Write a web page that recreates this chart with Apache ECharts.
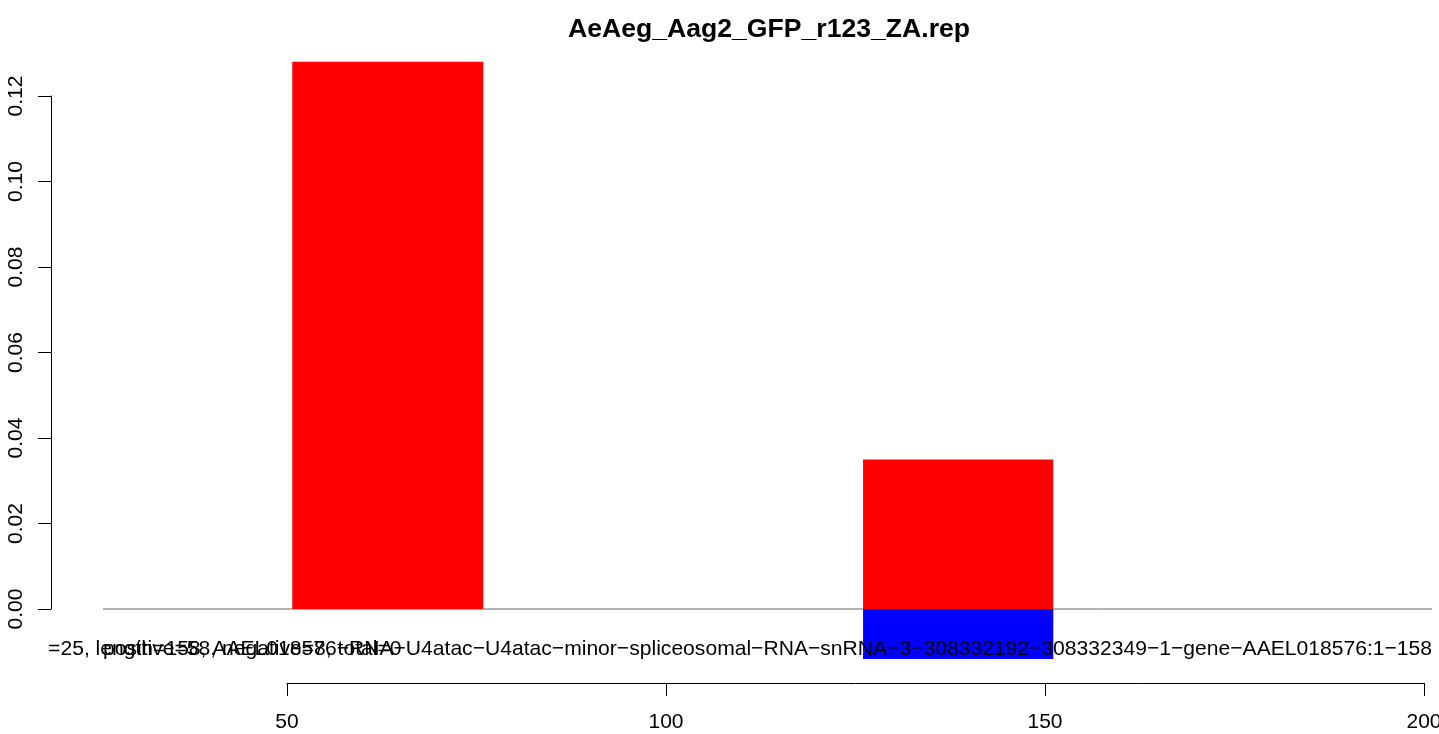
<!DOCTYPE html>
<html>
<head>
<meta charset="utf-8">
<script src="https://cdn.jsdelivr.net/npm/echarts@6/dist/echarts.min.js"></script>
<style>html,body{margin:0;padding:0;background:#fff}#c{width:1439px;height:734px}</style>
</head>
<body>
<div id="c"></div>
<script>
const titleText = "AeAeg_Aag2_GFP_r123_ZA.rep";
const binStart = [50.7, 126.0];
const binEnd = [75.9, 151.1];
const positiveValues = [0.128, 0.035];
const negativeValues = [0, -0.0117];
const baselineX = [25.73, 201.06];
const yTicks = [0, 0.02, 0.04, 0.06, 0.08, 0.10, 0.12];
const xTicks = [50, 100, 150, 200];
const noteRight = "=25, length=158, AAEL018576\u2212RNA\u2212U4atac\u2212U4atac\u2212minor\u2212spliceosomal\u2212RNA\u2212snRNA\u22123\u2212308332192\u2212308332349\u22121\u2212gene\u2212AAEL018576:1\u2212158";
const noteLeft = "positive=58, negative=8, total=0";

const FONT = "'Liberation Sans', Arial, Helvetica, sans-serif";
const chart = echarts.init(document.getElementById('c'), null, {renderer: 'canvas'});

const barData = [];
for (let i = 0; i < binStart.length; i++) {
  barData.push([binStart[i], binEnd[i], positiveValues[i], 'pos']);
  if (negativeValues[i] !== 0) barData.push([binStart[i], binEnd[i], negativeValues[i], 'neg']);
}

chart.setOption({
  animation: false,
  backgroundColor: '#ffffff',
  title: {
    text: titleText,
    left: 764,
    top: 11,
    textAlign: 'center',
    textStyle: {fontFamily: FONT, fontSize: 26.6, fontWeight: 'bold', color: '#000'}
  },
  grid: [
    {left: 103, right: 7, top: 38, bottom: 51, outerBoundsMode: 'none', containLabel: false},
    {left: 51, right: 1380, top: 96, bottom: 125, outerBoundsMode: 'none', containLabel: false},
    {left: 287, right: 15, top: 600, bottom: 51, outerBoundsMode: 'none', containLabel: false}
  ],
  xAxis: [
    {gridIndex: 0, type: 'value', min: baselineX[0], max: baselineX[1], show: false},
    {gridIndex: 1, type: 'value', min: 0, max: 1, show: false},
    {gridIndex: 2, type: 'value', min: xTicks[0], max: xTicks[xTicks.length-1], interval: 50,
     position: 'bottom',
     axisLine: {show: true, lineStyle: {color: '#000', width: 1}},
     axisTick: {show: true, inside: false, length: 13, lineStyle: {color: '#000'}},
     axisLabel: {show: true, margin: 29, fontFamily: FONT, fontSize: 21, color: '#000',
                 showMinLabel: true, showMaxLabel: true},
     splitLine: {show: false}}
  ],
  yAxis: [
    {gridIndex: 0, type: 'value', min: -0.01731, max: 0.13357, show: false},
    {gridIndex: 1, type: 'value', min: yTicks[0], max: yTicks[yTicks.length-1], interval: 0.02,
     position: 'left',
     axisLine: {show: true, lineStyle: {color: '#000', width: 1}},
     axisTick: {show: true, inside: false, length: 13, lineStyle: {color: '#000'}},
     axisLabel: {show: true, rotate: 90, margin: 24, fontFamily: FONT, fontSize: 21, color: '#000',
                 formatter: v => v.toFixed(2), showMinLabel: true, showMaxLabel: true},
     splitLine: {show: false}},
    {gridIndex: 2, type: 'value', min: 0, max: 1, show: false}
  ],
  series: [
    {
      type: 'line', xAxisIndex: 0, yAxisIndex: 0, z: 1,
      data: [[baselineX[0], 0], [baselineX[1], 0]],
      symbol: 'none', lineStyle: {color: '#666666', width: 1}, silent: true
    },
    {
      type: 'custom', xAxisIndex: 0, yAxisIndex: 0, z: 3,
      data: barData,
      encode: {x: [0, 1], y: 2},
      renderItem: function (params, api) {
        const p0 = api.coord([api.value(0), 0]);
        const p1 = api.coord([api.value(1), api.value(2)]);
        const isNeg = barData[params.dataIndex][3] === 'neg';
        return {
          type: 'rect',
          shape: {x: p0[0], y: Math.min(p0[1], p1[1]), width: p1[0] - p0[0], height: Math.abs(p1[1] - p0[1])},
          style: {fill: isNeg ? '#0000FF' : '#FF0000'}
        };
      }
    }
  ],
  graphic: [
    {type: 'text', right: 7, top: 639, z: 10,
     style: {text: noteRight, fontFamily: FONT, fontSize: 21.1, fill: '#000'}},
    {type: 'text', left: 103, top: 639, z: 10,
     style: {text: noteLeft, fontFamily: FONT, fontSize: 21.1, fill: '#000'}}
  ]
});
</script>
</body>
</html>
